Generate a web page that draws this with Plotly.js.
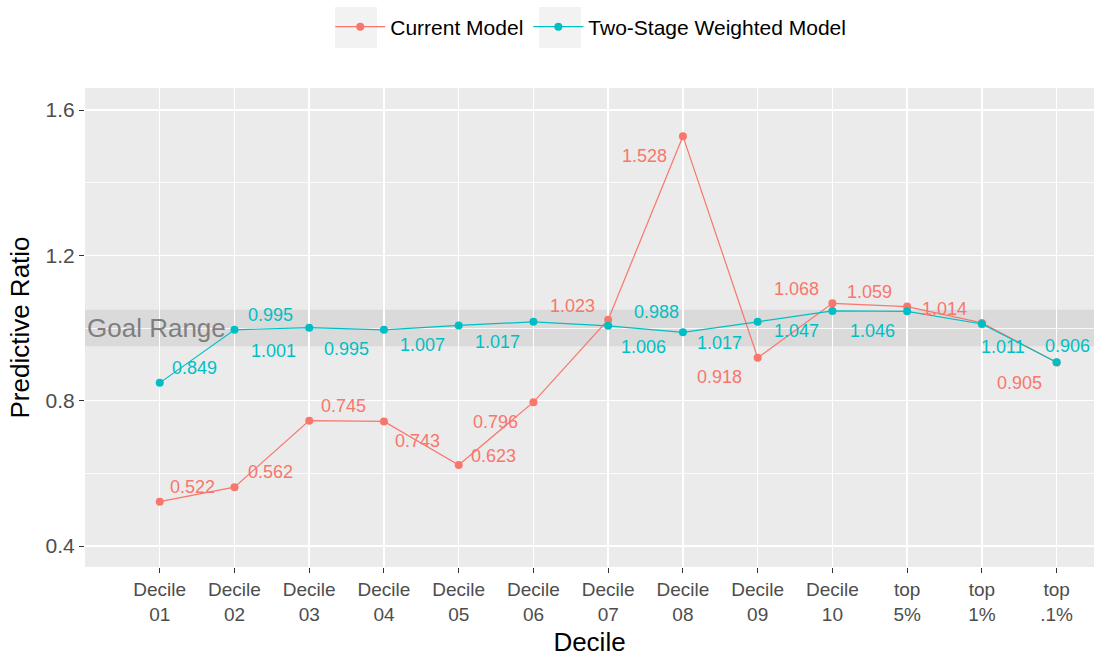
<!DOCTYPE html>
<html>
<head>
<meta charset="utf-8">
<script src="https://cdn.plot.ly/plotly-3.0.1.min.js"></script>
<style>html,body{margin:0;padding:0;background:#fff;}#chart{width:1094px;height:657px;}</style>
</head>
<body>
<div id="chart"></div>
<script>
// ---- data ----
const categories = ["Decile<br>01","Decile<br>02","Decile<br>03","Decile<br>04","Decile<br>05","Decile<br>06","Decile<br>07","Decile<br>08","Decile<br>09","Decile<br>10","top<br>5%","top<br>1%","top<br>.1%"];
const currentModel = [0.522,0.562,0.745,0.743,0.623,0.796,1.023,1.528,0.918,1.068,1.059,1.014,0.905];
const twoStageModel = [0.849,0.995,1.001,0.995,1.007,1.017,1.006,0.988,1.017,1.047,1.046,1.011,0.906];
const goalRange = [0.95, 1.05];
const seriesNames = ["Current Model","Two-Stage Weighted Model"];
const yMajorTicks = [0.4, 0.8, 1.2, 1.6];
const yMinorTicks = [0.6, 1.0, 1.4];

// ---- label offsets (pixels, repelled text) ----
const currentOffsets = [[33,15],[36,15],[34,15],[34,-20],[35,9],[-38,-20],[-36,14],[-38,-20],[-38,-19],[-36,14],[-38,15],[-37,14],[-37,-20]];
const twoStageOffsets = [[35,15],[36,15],[-36,-23],[-37,-19],[-36,-20],[-36,-20],[35,-21],[-26,20],[-38,-21],[-36,-20],[-35,-20],[21,-23],[11,16]];

const RED = "#F8766D", TEAL = "#00BFC4";
const FONT = "Liberation Sans, Arial, sans-serif";

const traces = [
  {x: categories, y: currentModel, name: seriesNames[0], type: "scatter", mode: "lines+markers",
   line: {color: RED, width: 1.2}, marker: {color: RED, size: 8}},
  {x: categories, y: twoStageModel, name: seriesNames[1], type: "scatter", mode: "lines+markers",
   line: {color: TEAL, width: 1.2}, marker: {color: TEAL, size: 8}}
];

const annotations = [];
function addLabels(vals, offs, color) {
  vals.forEach((v, i) => {
    annotations.push({x: categories[i], y: v, xref: "x", yref: "y", text: v.toFixed(3),
      showarrow: false, xshift: offs[i][0], yshift: offs[i][1],
      font: {family: FONT, size: 18, color: color}});
  });
}
addLabels(currentModel, currentOffsets, RED);
addLabels(twoStageModel, twoStageOffsets, TEAL);
annotations.push({x: 0, xref: "paper", xanchor: "left", y: (goalRange[0] + goalRange[1]) / 2, yref: "y",
  text: "Goal Range", showarrow: false, font: {family: FONT, size: 26, color: "#7F7F7F"}});

// legend key backgrounds (ggplot style)
const keyBox = (x0, x1) => ({type: "rect", xref: "paper", yref: "paper", x0: x0, x1: x1, y0: 1.0835, y1: 1.1691,
  fillcolor: "#F2F2F2", line: {width: 0}, layer: "below"});

const layout = {
  width: 1094, height: 657,
  margin: {l: 85, r: 0, t: 88, b: 90},
  paper_bgcolor: "#FFFFFF", plot_bgcolor: "#EBEBEB",
  font: {family: FONT, color: "#4D4D4D"},
  showlegend: true,
  legend: {orientation: "h", xref: "container", yref: "container", x: 0.54, xanchor: "center",
    y: 0.99, yanchor: "top", itemwidth: 50, font: {family: FONT, size: 21, color: "#000000"}, bgcolor: "rgba(0,0,0,0)"},
  xaxis: {type: "category", range: [-1.0, 12.5], showgrid: true, gridcolor: "#FFFFFF", gridwidth: 1.5,
    zeroline: false, ticks: "outside", ticklen: 5, tickcolor: "#333333", tickwidth: 1,
    tickfont: {family: FONT, size: 19, color: "#4D4D4D"},
    title: {text: "Decile", font: {family: FONT, size: 26, color: "#000000"}, standoff: 10}, automargin: false},
  yaxis: {range: [0.3422, 1.6606], tickmode: "array", tickvals: yMajorTicks, showgrid: true, gridcolor: "#FFFFFF", gridwidth: 1.5,
    minor: {tickmode: "array", tickvals: yMinorTicks, showgrid: true, gridcolor: "#FFFFFF", gridwidth: 0.8, ticks: ""},
    zeroline: false, ticks: "outside", ticklen: 5, tickcolor: "#333333", tickwidth: 1,
    tickformat: ".1f",
    tickfont: {family: FONT, size: 21, color: "#4D4D4D"},
    title: {text: "Predictive Ratio", font: {family: FONT, size: 26, color: "#000000"}, standoff: 8}, automargin: false},
  shapes: [
    {type: "rect", xref: "paper", yref: "y", x0: 0, x1: 1, y0: goalRange[0], y1: goalRange[1],
     fillcolor: "rgba(0,0,0,0.07)", line: {width: 0}, layer: "between"},
    keyBox(0.2478, 0.2894),
    keyBox(0.4500, 0.4916)
  ],
  annotations: annotations
};

Plotly.newPlot("chart", traces, layout, {displayModeBar: false, staticPlot: true});
</script>
</body>
</html>
